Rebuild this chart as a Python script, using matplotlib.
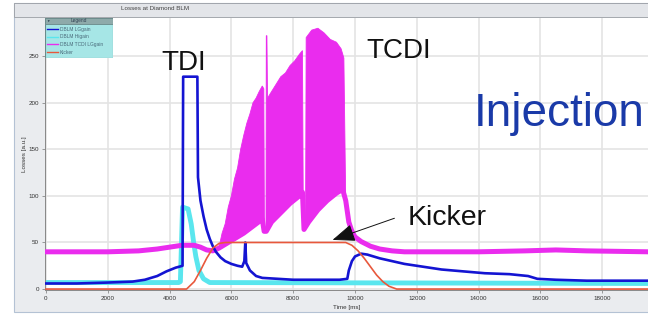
import matplotlib
matplotlib.use("Agg")
import matplotlib.pyplot as plt
from matplotlib.patches import Rectangle, FancyArrowPatch

plt.rcParams['font.family'] = ['Liberation Sans', 'DejaVu Sans']

# ---- data (time in ms, losses in a.u.) ----
blue_t = [0, 1000, 2000, 2800, 3200, 3600, 3900, 4200, 4420, 4440, 4900, 4920, 5000, 5100, 5200,
          5300, 5400, 5500, 5650, 5800, 6000, 6200, 6350, 6420, 6450, 6480, 6600, 6800, 7000,
          7500, 8000, 8500, 9000, 9500, 9750, 9800, 9900, 10000, 10200, 10400, 10800, 11200,
          11600, 12200, 12800, 13500, 14200, 15000, 15600, 15900, 16500, 17500, 19500]
blue_v = [6, 6, 7, 8, 10, 14, 19, 23, 25, 228, 228, 120, 95, 78, 64,
          54, 46, 40, 34, 30, 27, 25, 24, 30, 50, 28, 20, 14, 12,
          11, 10, 10, 10, 10, 11, 20, 30, 35, 38, 37, 33, 30,
          27, 24, 21, 19, 17, 16, 14, 11, 10, 9, 9]

cyan_t = [0, 4300, 4350, 4420, 4600, 4700, 4780, 4850, 4950, 5100, 5300, 19500]
cyan_v = [7, 7, 8, 88, 86, 70, 50, 35, 20, 11, 7, 6]

mag_t = [0, 2000, 3000, 3600, 4000, 4400, 4800, 5000, 5200, 5400, 5600, 5800, 6000, 6200,
         6400, 6600, 6800, 7000, 7060, 7130, 7300, 7600, 7900, 8200, 8300, 8350, 8500, 8800,
         9100, 9400, 9600, 9700, 9800, 9900, 10000, 10200, 10500, 10800, 11200, 11600, 14000,
         15500, 16500, 17500, 19500]
mag_v = [40, 40, 41, 43, 45, 47, 47, 45, 42, 41, 44, 48, 52, 56,
         60, 65, 70, 75, 62, 62, 72, 82, 92, 100, 104, 64, 72, 85,
         95, 103, 107, 95, 72, 62, 56, 51, 46, 43, 41, 40, 40,
         41, 42, 41, 40]

# upper envelope of the TCDI spike trains
spike_t = [5600, 5700, 5800, 5900, 6000, 6100, 6200, 6300, 6400, 6500, 6600, 6700, 6800, 6900,
           7000, 7050, 7070, 7120, 7130, 7150, 7170, 7300, 7450, 7600, 7750, 7900, 8050, 8200,
           8300, 8330, 8400, 8420, 8600, 8800, 9000, 9200, 9400, 9550, 9640, 9700]
spike_v = [45, 60, 70, 88, 100, 118, 130, 150, 165, 178, 188, 200, 205, 212,
           218, 215, 62, 62, 272, 272, 205, 212, 220, 228, 232, 240, 245, 252,
           256, 64, 64, 270, 278, 280, 275, 268, 265, 258, 248, 95]

kick_t = [0, 4550, 4800, 5000, 5200, 5400, 5600, 5800, 9700, 9900, 10100, 10300, 10500,
          10700, 10900, 11100, 11350, 19500]
kick_v = [0, 0, 8, 20, 33, 44, 49, 50, 50, 47, 41, 33, 24, 15, 8, 3, 0, 0]

names = ['DBLM LGgain', 'DBLM Higain', 'DBLM TCDI LGgain', 'Kicker']
colors = ['#1414d2', '#5ae6ee', '#ea2cee', '#e8583c']

W, H = 648, 317
fig = plt.figure(figsize=(W / 100, H / 100), dpi=100)

# outer window panel and header strip
fig.patches.append(Rectangle((14 / W, 1 - 312 / H), 1, 309 / H, transform=fig.transFigure,
                             facecolor='#eaecef', edgecolor='#b4c2d4', lw=0.8, zorder=-10))
fig.patches.append(Rectangle((14 / W, 1 - 17 / H), 1, 14 / H, transform=fig.transFigure,
                             facecolor='#e3e5e9', edgecolor='#9a9ea4', lw=0.6, zorder=-9))
fig.text(155 / W, 1 - 9 / H, 'Losses at Diamond BLM', fontsize=4.5, color='#444',
         ha='center', va='center')

ax = fig.add_axes([45 / W, 1 - 290 / H, 1 - 45 / W, 272 / H])
ax.set_facecolor('white')

ax.plot(cyan_t, cyan_v, color=colors[1], lw=3.5, solid_joinstyle='round', zorder=2)
ax.fill(spike_t + mag_t[10:32][::-1], spike_v + mag_v[10:32][::-1], color=colors[2],
        lw=0.6, zorder=3)
ax.plot(mag_t, mag_v, color=colors[2], lw=3.6, solid_joinstyle='round', zorder=3)
ax.plot(blue_t, blue_v, color=colors[0], lw=1.9, zorder=4)
ax.plot(kick_t, kick_v, color=colors[3], lw=1.2, zorder=5)

ax.set_xlim(-30, 19480)
ax.set_ylim(-1, 291)
ax.set_xticks(range(0, 19000, 2000))
ax.set_yticks(range(0, 251, 50))
ax.tick_params(labelsize=4.5, labelcolor='#333', length=2.5, width=0.5, color='#777', pad=2)
ax.grid(True, color='#e4e4e4', lw=1.2)
ax.set_axisbelow(True)
for s in ['top', 'right']:
    ax.spines[s].set_visible(False)
for s in ['left', 'bottom']:
    ax.spines[s].set_color('#888')
    ax.spines[s].set_linewidth(0.7)
ax.set_xlabel('Time [ms]', fontsize=4.5, color='#333', labelpad=3)
ax.set_ylabel('Losses [a.u.]', fontsize=4.5, color='#333', labelpad=1)

# kicker arrow
arr = FancyArrowPatch((11360, 77), (9190, 51.8), arrowstyle='-|>,head_length=1.4,head_width=0.55',
                      mutation_scale=10, color='#111', lw=0.7, zorder=6)
ax.add_patch(arr)

# slide annotations
fig.text(161 / W, 1 - 70 / H, 'TDI', fontsize=20, color='#111', va='baseline', zorder=10)
fig.text(366 / W, 1 - 58 / H, 'TCDI', fontsize=20, color='#111', va='baseline', zorder=10)
fig.text(408 / W, 1 - 225 / H, 'Kicker', fontsize=20.5, color='#111', va='baseline', zorder=10)
fig.text(474 / W, 1 - 126 / H, 'Injection', fontsize=33, color='#1a3aa8', va='baseline',
         zorder=10)

# legend panel
lg = fig.add_axes([45 / W, 1 - 58 / H, 68 / W, 40 / H])
lg.set_xlim(0, 68)
lg.set_ylim(40, 0)
lg.axis('off')
lg.add_patch(Rectangle((0, 0), 68, 40, facecolor='#a6e6e6', edgecolor='#6a8a8a', lw=0.8))
lg.add_patch(Rectangle((0, 0), 68, 5.5, facecolor='#8eaaaa', edgecolor='#6a8a8a', lw=0.6))
lg.text(34, 2.9, 'Legend', fontsize=3.5, color='#345', ha='center', va='center')
lg.text(3.5, 2.9, '\u25bc', fontsize=2.5, color='#234', ha='center', va='center')
for i, (n, c) in enumerate(zip(names, colors)):
    yy = 11 + i * 7.7
    lg.plot([2, 13], [yy, yy], color=c, lw=1.0)
    lg.text(15, yy, n, fontsize=3.5, color='#4a6a7a', va='center')

fig.savefig('out.png', dpi=100)
